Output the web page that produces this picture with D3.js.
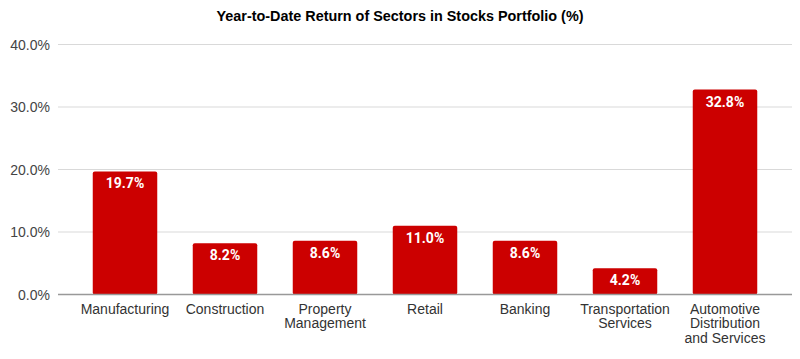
<!DOCTYPE html>
<html>
<head>
<meta charset="utf-8">
<script src="https://cdn.jsdelivr.net/npm/d3@7"></script>
<style>
  html, body { margin: 0; padding: 0; background: #fff; }
  svg { display: block; }
</style>
</head>
<body>
<svg id="chart" width="800" height="359"></svg>
<script>
const categories = ["Manufacturing", "Construction", "Property Management", "Retail", "Banking", "Transportation Services", "Automotive Distribution and Services"];
const categoryLines = [["Manufacturing"], ["Construction"], ["Property", "Management"], ["Retail"], ["Banking"], ["Transportation", "Services"], ["Automotive", "Distribution", "and Services"]];
const returns = [19.7, 8.2, 8.6, 11.0, 8.6, 4.2, 32.8];
const yTicks = [0, 10, 20, 30, 40];
const title = "Year-to-Date Return of Sectors in Stocks Portfolio (%)";

const svg = d3.select("#chart");
const gridLeft = 58, gridRight = 792;

const x = d3.scaleBand().domain(categories).range([75, 775]).paddingInner(0.355).paddingOuter(0.1775);
const y = d3.scaleLinear().domain([0, 40]).range([294.5, 44.5]);

svg.append("text")
  .attr("x", 400).attr("y", 21)
  .attr("text-anchor", "middle")
  .attr("font-family", "'Liberation Sans', Arial, sans-serif")
  .attr("font-weight", "bold")
  .attr("font-size", 14.4)
  .attr("fill", "#000")
  .text(title);

// gridlines
svg.append("g").selectAll("line").data(yTicks.filter(d => d !== 0)).join("line")
  .attr("x1", gridLeft).attr("x2", gridRight)
  .attr("y1", d => y(d)).attr("y2", d => y(d))
  .attr("stroke", "#d9d9d9").attr("stroke-width", 1);

// y labels
svg.append("g").selectAll("text").data(yTicks).join("text")
  .attr("x", 50).attr("y", d => y(d) + 5)
  .attr("text-anchor", "end")
  .attr("font-family", "'Liberation Sans', Arial, sans-serif")
  .attr("font-size", 14)
  .attr("fill", "#444")
  .text(d => d3.format(".1f")(d) + "%");

// bars
svg.append("g").selectAll("rect").data(returns).join("rect")
  .attr("x", (d, i) => x(categories[i]))
  .attr("width", x.bandwidth())
  .attr("y", d => y(d))
  .attr("height", d => y(0) - y(d))
  .attr("rx", 2).attr("ry", 2)
  .attr("fill", "#cc0000");

// baseline
svg.append("line")
  .attr("x1", gridLeft).attr("x2", gridRight)
  .attr("y1", y(0)).attr("y2", y(0))
  .attr("stroke", "#999").attr("stroke-width", 1.5);

// data labels
svg.append("g").selectAll("text").data(returns).join("text")
  .attr("x", (d, i) => x(categories[i]) + x.bandwidth() / 2)
  .attr("y", d => y(d) + 17)
  .attr("text-anchor", "middle")
  .attr("font-family", "Roboto, Arial, sans-serif")
  .attr("font-weight", "bold")
  .attr("font-size", 14)
  .attr("fill", "#fff")
  .text(d => d3.format(".1f")(d) + "%");

// category labels
const catG = svg.append("g").selectAll("text").data(categories).join("text")
  .attr("text-anchor", "middle")
  .attr("font-family", "'Liberation Sans', Arial, sans-serif")
  .attr("font-size", 14)
  .attr("fill", "#333");
catG.each(function(d, i) {
  const t = d3.select(this);
  categoryLines[i].forEach((line, j) => {
    t.append("tspan")
      .attr("x", x(d) + x.bandwidth() / 2)
      .attr("y", 314 + j * 14.3)
      .text(line);
  });
});
</script>
</body>
</html>
